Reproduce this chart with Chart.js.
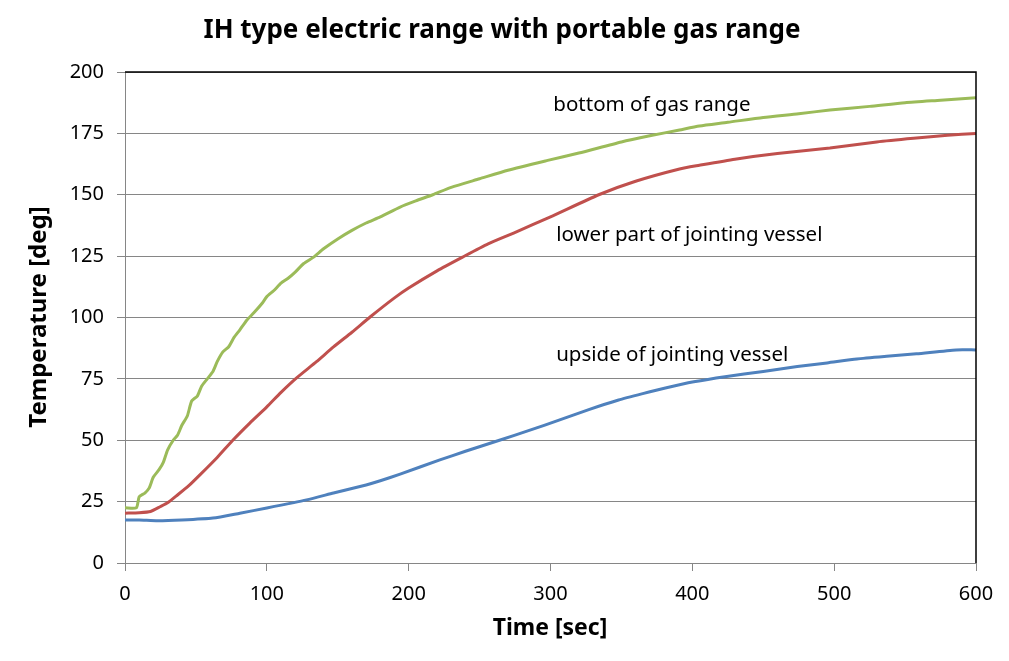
<!DOCTYPE html>
<html>
<head>
<meta charset="utf-8">
<script src="https://cdn.jsdelivr.net/npm/chart.js@4"></script>
<style>
  html, body { margin: 0; padding: 0; background: #fff; }
  #wrap { width: 1009px; height: 661px; }
</style>
</head>
<body>
<div id="wrap"><canvas id="c" width="1009" height="661"></canvas></div>
<script>
// values (time in sec, temperature in deg)
const gasTime = [0, 8, 10, 14, 17, 20, 24, 27, 30, 34, 37, 40, 44, 47, 51, 54, 58, 62, 65, 69, 73, 77, 81, 86, 91, 97, 100, 105, 110, 115, 120, 126, 133, 140, 150, 160, 170, 180, 194, 205, 217, 230, 250, 270, 298, 320, 350, 370, 391, 405, 425, 450, 475, 497, 525, 550, 575, 600];
const gasTemp = [22.5, 22.5, 27, 28.5, 30.5, 35, 38, 41, 46, 50, 52, 56, 60, 66, 68, 72, 75, 78, 82, 86, 88, 92, 95, 99, 102, 106, 108.5, 111, 114, 116, 118.5, 122, 124.6, 128, 132, 135.5, 138.5, 141, 145, 147.5, 150, 153, 156.5, 160, 164, 167, 171.5, 174, 176.4, 178, 179.5, 181.5, 183, 184.5, 186, 187.5, 188.5, 189.5];

const lowerTime = [0, 10, 18, 25, 30, 37, 45, 53, 65, 76, 88, 100, 110, 121, 135, 147, 160, 173, 190, 200, 220, 238, 256, 274, 300, 334, 360, 391, 405, 430, 460, 497, 530, 556, 580, 600];
const lowerTemp = [20.3, 20.5, 21, 23, 24.5, 27.7, 31.5, 36, 43, 50, 57, 63.6, 69.5, 75.4, 82, 88, 94, 100.3, 108, 112, 119, 124.6, 130, 134.4, 141, 150, 155.5, 160.5, 162, 164.5, 166.8, 169, 171.5, 173, 174.2, 175];

const upperTime = [0, 10, 23, 40, 62, 81, 100, 128, 147, 170, 180, 194, 222, 240, 264, 285, 306, 327, 348, 365, 381, 401, 423, 450, 474, 495, 516, 537, 558, 586, 600];
const upperTemp = [17.5, 17.5, 17.2, 17.5, 18.3, 20.3, 22.4, 25.7, 28.5, 31.8, 33.5, 36.2, 42, 45.5, 50, 54, 58.2, 62.5, 66.4, 69, 71.3, 73.8, 75.9, 78, 80, 81.5, 83.1, 84.2, 85.2, 86.8, 86.8];

const seriesNames = ['bottom of gas range', 'lower part of jointing vessel', 'upside of jointing vessel'];
const seriesColors = ['#9BBB59', '#C0504D', '#4F81BD'];
// label anchor: [time, temperature]
const labelAt = [[302, 186.5], [304, 133.6], [304, 84.7]];

const xTicks = [0, 100, 200, 300, 400, 500, 600];
const yTicks = [0, 25, 50, 75, 100, 125, 150, 175, 200];

const chartTitle = 'IH type electric range with portable gas range';
const xTitle = 'Time [sec]';
const yTitle = 'Temperature [deg]';

const FONT = "'Noto Sans', 'DejaVu Sans', sans-serif";

function pts(t, v) { return t.map((x, i) => ({ x: x, y: v[i] })); }

const decor = {
  id: 'decor',
  afterDraw(chart) {
    const ctx = chart.ctx;
    const a = chart.chartArea;
    ctx.save();
    // black frame on top and right
    ctx.strokeStyle = '#000';
    ctx.lineWidth = 1.5;
    ctx.beginPath();
    ctx.moveTo(a.left, a.top);
    ctx.lineTo(a.right, a.top);
    ctx.lineTo(a.right, a.bottom);
    ctx.stroke();

    // series labels
    const xs = chart.scales.x, ys = chart.scales.y;
    ctx.fillStyle = '#000';
    ctx.font = '20.5px ' + FONT;
    ctx.textAlign = 'left';
    ctx.textBaseline = 'middle';
    seriesNames.forEach((n, i) => {
      ctx.fillText(n, xs.getPixelForValue(labelAt[i][0]), ys.getPixelForValue(labelAt[i][1]));
    });

    // titles
    ctx.textAlign = 'center';
    ctx.font = 'bold 26px ' + FONT;
    ctx.fillText(chartTitle, 502, 31);
    ctx.font = 'bold 23px ' + FONT;
    ctx.fillText(xTitle, 550, 628);
    ctx.font = 'bold 24px ' + FONT;
    ctx.translate(39, 317);
    ctx.rotate(-Math.PI / 2);
    ctx.fillText(yTitle, 0, 0);
    ctx.restore();
  }
};

new Chart(document.getElementById('c'), {
  type: 'line',
  data: {
    datasets: [
      { label: seriesNames[0], data: pts(gasTime, gasTemp) },
      { label: seriesNames[1], data: pts(lowerTime, lowerTemp) },
      { label: seriesNames[2], data: pts(upperTime, upperTemp) }
    ].map((d, i) => Object.assign(d, {
      borderColor: seriesColors[i],
      backgroundColor: seriesColors[i],
      borderWidth: 3,
      pointRadius: 0,
      tension: 0.2,
      fill: false
    }))
  },
  options: {
    responsive: false,
    animation: false,
    layout: { padding: { top: 72, right: 33, left: 0, bottom: 0 } },
    plugins: { legend: { display: false }, tooltip: { enabled: false }, title: { display: false } },
    scales: {
      x: {
        type: 'linear',
        min: 0, max: 600,
        afterFit: s => { s.height = 98; },
        afterBuildTicks: s => { s.ticks = xTicks.map(v => ({ value: v })); },
        grid: { drawOnChartArea: false, drawTicks: true, tickLength: 8, color: '#868686' },
        border: { color: '#868686', width: 1 },
        ticks: { color: '#000', padding: 11, maxRotation: 0, font: { family: FONT, size: 20 } }
      },
      y: {
        min: 0, max: 200,
        afterFit: s => { s.width = 125; },
        afterBuildTicks: s => { s.ticks = yTicks.map(v => ({ value: v })); },
        grid: { color: '#868686', lineWidth: 1, tickLength: 8 },
        border: { color: '#868686', width: 1 },
        ticks: { color: '#000', padding: 13, font: { family: FONT, size: 20 } }
      }
    }
  },
  plugins: [decor]
});
</script>
</body>
</html>
